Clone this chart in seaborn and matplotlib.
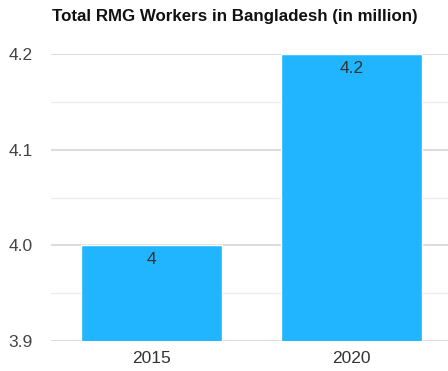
import numpy as np
import pandas as pd
import matplotlib
matplotlib.use("Agg")
import matplotlib.pyplot as plt
import seaborn as sns

years = ["2015", "2020"]
workers = [4.0, 4.2]
value_labels = ["4", "4.2"]
y_ticks = [3.9, 4.0, 4.1, 4.2]
minor_ticks = [3.95, 4.05, 4.15]

df = pd.DataFrame({"year": years, "workers": workers})

sns.set_style("white")
plt.rcParams["font.family"] = ["Liberation Sans", "DejaVu Sans"]

fig = plt.figure(figsize=(4.48, 3.71), dpi=100)
ax = fig.add_axes([51 / 448, 1 - 341 / 371, 1 - 51 / 448, (341 - 54) / 371])

sns.barplot(data=df, x="year", y="workers", color="#22b5ff", saturation=1,
            width=0.705, ax=ax, zorder=3)

ax.set_ylim(3.9, 4.2)
ax.set_xlim(-0.5, 1.482)
ax.set_yticks(y_ticks)
ax.set_yticklabels([f"{t:.1f}" for t in y_ticks])
ax.set_yticks(minor_ticks, minor=True)
ax.grid(axis="y", which="major", color="#d6d6d6", linewidth=1.2, zorder=0)
ax.grid(axis="y", which="minor", color="#ececec", linewidth=1.0, zorder=0)
ax.set_axisbelow(True)
for s in ax.spines.values():
    s.set_visible(False)
ax.tick_params(axis="y", which="both", length=0, pad=13, labelsize=12.5, labelcolor="#444444")
ax.tick_params(axis="x", length=0, pad=7, labelsize=12.5, labelcolor="#333333")
ax.set_xlabel("")
ax.set_ylabel("")

for i, (v, lab) in enumerate(zip(workers, value_labels)):
    ax.annotate(lab, (i, v), xytext=(0, -5), textcoords="offset points",
                ha="center", va="top", fontsize=12.5, color="#333333")

fig.text(52 / 448, 1 - 17 / 371, "Total RMG Workers in Bangladesh (in million)",
         ha="left", va="center", fontsize=12.2, fontweight="bold", color="#111111")

fig.savefig("out.png", dpi=100)
